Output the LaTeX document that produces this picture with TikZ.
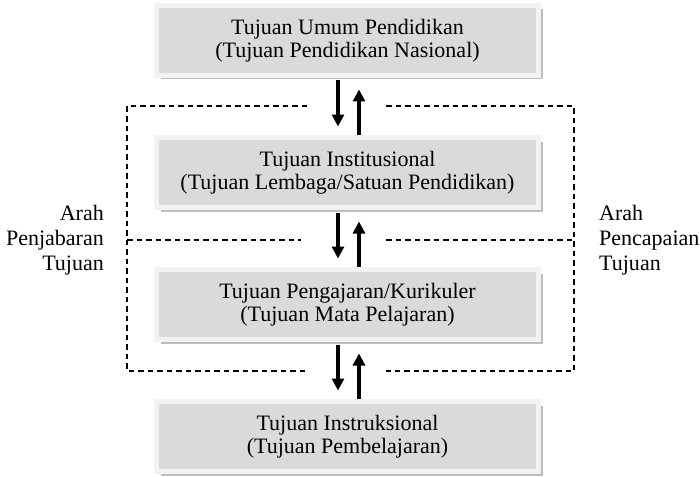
\documentclass[tikz,border=0pt]{standalone}
\usepackage{fontspec}
\setmainfont{Liberation Serif}
\usetikzlibrary{arrows.meta,shadows}
\definecolor{boxfill}{HTML}{DADADA}
\definecolor{boxframe}{HTML}{F2F2F2}
\definecolor{boxshadow}{HTML}{BDBDBD}
\begin{document}
\begin{tikzpicture}[x=1pt,y=-1pt,
  goalbox/.style={fill=boxfill,draw=boxframe,line width=5pt,minimum width=382pt,minimum height=70pt,
    inner sep=0pt,outer sep=0pt,align=center,font=\fontsize{22}{23.5}\selectfont,
    drop shadow={shadow xshift=4pt,shadow yshift=-4pt,fill=boxshadow,opacity=1}},
  sidelabel/.style={font=\fontsize{22}{25}\selectfont,inner sep=0pt},
  arr/.style={line width=3.5pt,-{Triangle[length=12pt,width=12pt]}},
  dline/.style={line width=1.1pt,dash pattern=on 5.5pt off 4pt}]
\useasboundingbox (0,0) rectangle (700,476);
\node[goalbox] (b1) at (347.5,40.5) {Tujuan Umum Pendidikan\\(Tujuan Pendidikan Nasional)};
\node[goalbox] (b2) at (347.5,172.5) {Tujuan Institusional\\(Tujuan Lembaga/Satuan Pendidikan)};
\node[goalbox] (b3) at (347.5,304.5) {Tujuan Pengajaran/Kurikuler\\(Tujuan Mata Pelajaran)};
\node[goalbox] (b4) at (347.5,436.5) {Tujuan Instruksional\\(Tujuan Pembelajaran)};
\node[sidelabel,align=right,anchor=east] (ll) at (104,240) {Arah\\Penjabaran\\Tujuan};
\node[sidelabel,align=left,anchor=west] (rl) at (599,240) {Arah\\Pencapaian\\Tujuan};
\foreach \a/\b in {b1/b2,b2/b3,b3/b4}{
  \draw[arr] ([xshift=-9.5pt,yshift=-5pt]\a.south) -- ([xshift=-9.5pt,yshift=11pt]\b.north);
  \draw[arr] ([xshift=11.5pt,yshift=2.5pt]\b.north) -- ([xshift=11.5pt,yshift=-14pt]\a.south);
}
\coordinate (tl) at (127,106);
\coordinate (tm1) at (307,106);
\coordinate (tm2) at (386,106);
\coordinate (tr) at (574,106);
\coordinate (ml) at (127,240);
\coordinate (mm1) at (301,240);
\coordinate (mm2) at (386,240);
\coordinate (mr) at (574,240);
\coordinate (bl) at (127,371);
\coordinate (bm1) at (305,371);
\coordinate (bm2) at (386,371);
\coordinate (br) at (574,371);
\draw[dline] (tm1) -- (tl) -- (bl) -- (bm1);
\draw[dline] (tm2) -- (tr) -- (br) -- (bm2);
\draw[dline] (ml) -- (mm1);
\draw[dline] (mm2) -- (mr);
\end{tikzpicture}
\end{document}
